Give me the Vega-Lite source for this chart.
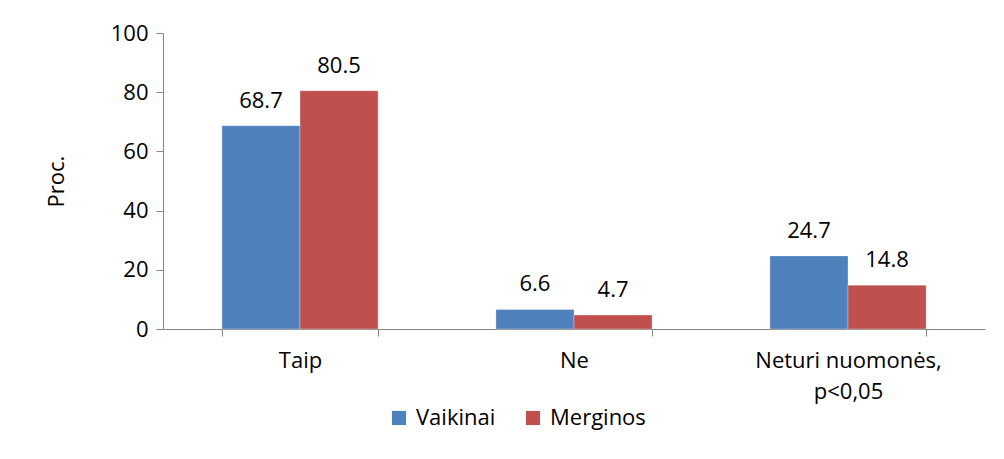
{
  "$schema": "https://vega.github.io/schema/vega-lite/v6.json",
  "width": 822,
  "height": 296,
  "autosize": {"type": "none"},
  "padding": {"left": 163, "top": 33, "right": 19, "bottom": 130},
  "background": "white",
  "config": {
    "view": {"stroke": null},
    "font": "Open Sans",
    "axis": {"labelFont": "Open Sans", "titleFont": "Open Sans"}
  },
  "data": {
    "values": [
      {"kategorija": "Taip", "lytis": "Vaikinai", "proc": 68.7},
      {"kategorija": "Taip", "lytis": "Merginos", "proc": 80.5},
      {"kategorija": "Ne", "lytis": "Vaikinai", "proc": 6.6},
      {"kategorija": "Ne", "lytis": "Merginos", "proc": 4.7},
      {"kategorija": "Neturi nuomonės, p<0,05", "lytis": "Vaikinai", "proc": 24.7},
      {"kategorija": "Neturi nuomonės, p<0,05", "lytis": "Merginos", "proc": 14.8}
    ]
  },
  "encoding": {
    "x": {
      "field": "kategorija",
      "type": "nominal",
      "sort": ["Taip", "Ne", "Neturi nuomonės, p<0,05"],
      "scale": {"paddingInner": 0.43, "paddingOuter": 0.215},
      "axis": {
        "title": null,
        "labelAngle": 0,
        "labelFontSize": 22,
        "labelColor": "black",
        "labelPadding": 14,
        "labelLineHeight": 31,
        "labelLimit": 0,
        "labelExpr": "datum.value == 'Neturi nuomonės, p<0,05' ? ['Neturi nuomonės,', 'p<0,05'] : datum.value",
        "domainColor": "#868686",
        "tickColor": "#868686",
        "tickBand": "extent",
        "tickSize": 7
      }
    },
    "xOffset": {"field": "lytis", "type": "nominal", "sort": ["Vaikinai", "Merginos"]},
    "y": {
      "field": "proc",
      "type": "quantitative",
      "scale": {"domain": [0, 100]},
      "axis": {
        "title": "Proc.",
        "titleFontSize": 22,
        "titleFontWeight": "normal",
        "titleColor": "black",
        "titlePadding": 42,
        "values": [0, 20, 40, 60, 80, 100],
        "grid": false,
        "labelFontSize": 22,
        "labelColor": "black",
        "labelPadding": 8,
        "domainColor": "#868686",
        "tickColor": "#868686",
        "tickSize": 7
      }
    }
  },
  "layer": [
    {
      "mark": {"type": "bar", "stroke": "white", "strokeWidth": 0.5, "strokeOpacity": 0.6},
      "encoding": {
        "color": {
          "field": "lytis",
          "type": "nominal",
          "sort": ["Vaikinai", "Merginos"],
          "scale": {"domain": ["Vaikinai", "Merginos"], "range": ["#4F81BD", "#C0504D"]},
          "legend": {
            "title": null,
            "orient": "none",
            "legendX": 225,
            "legendY": 374,
            "direction": "horizontal",
            "symbolType": "square",
            "symbolSize": 200,
            "symbolStrokeWidth": 0,
            "labelFontSize": 22,
            "labelColor": "black",
            "labelOffset": 6,
            "columnPadding": 26
          }
        }
      }
    },
    {
      "mark": {"type": "text", "dy": -25, "fontSize": 22, "color": "black"},
      "encoding": {
        "text": {"field": "proc", "type": "quantitative", "format": ".1f"}
      }
    }
  ]
}
